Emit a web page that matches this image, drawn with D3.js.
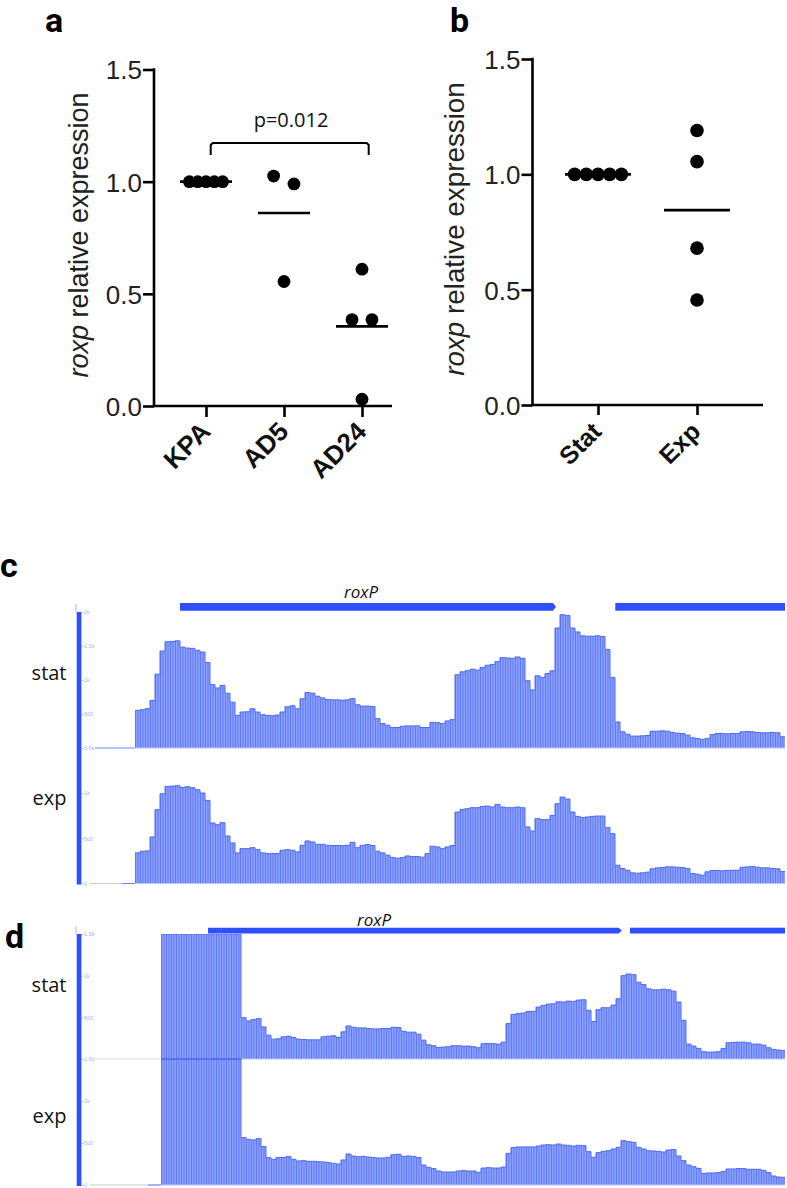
<!DOCTYPE html>
<html><head><meta charset="utf-8">
<script src="https://cdn.jsdelivr.net/npm/d3@7"></script>
<style>html,body{margin:0;padding:0;background:#fff}svg{display:block}</style>
</head><body><svg id="fig" width="787" height="1188"></svg>
<script>
// Panel a
const aCategories = ["KPA","AD5","AD24"];
const aKPA = [1,1,1,1,1];
const aAD5 = [1.025,0.99,0.555];
const aAD24 = [0.61,0.385,0.385,0.03];
const aMeans = [1.0,0.86,0.355];
const aSlots = [[-2,-1,0,1,2],[-1.25,1.2,0],[0,-1.2,1.2,0]];
// Panel b
const bCategories = ["Stat","Exp"];
const bStat = [1,1,1,1,1];
const bExp = [1.19,1.055,0.68,0.455];
const bMeans = [1.0,0.845];
const bSlots = [[-2,-1,0,1,2],[0,0,0,0]];
const yTicks = [0,0.5,1.0,1.5];
const trackTicks = [0,500,1000,1500];
// Panel c coverage (reads per 5px bin, first bin at genome position 0)
const cStat = [553,563,577,698,1086,1426,1562,1567,1576,1484,1470,1465,1436,1411,1256,931,883,921,805,674,480,529,533,577,529,490,480,475,485,529,606,621,577,723,815,805,761,737,713,708,708,703,708,727,635,616,616,611,432,359,335,301,301,320,325,325,325,301,301,378,373,359,398,417,1077,1120,1135,1159,1145,1183,1217,1227,1271,1329,1324,1319,1339,1319,990,854,1062,1038,1096,1135,1765,1959,1950,1765,1707,1649,1644,1644,1649,1639,1450,1038,383,238,204,175,175,179,184,247,247,252,247,228,218,213,189,150,141,126,141,199,213,213,208,213,213,238,242,238,228,223,223,228,223,165];
const cExp = [339,357,361,515,817,994,1075,1078,1082,1064,1071,1060,1038,1001,920,670,651,673,526,449,339,386,386,397,375,339,331,331,331,368,375,368,350,423,471,460,434,434,423,420,420,420,423,456,397,423,431,420,357,339,313,287,280,287,305,298,298,291,331,412,405,386,405,420,791,821,828,839,839,854,857,846,876,846,839,839,846,839,626,581,718,707,707,754,883,957,935,791,743,732,736,743,747,747,618,552,202,166,147,118,114,118,125,162,173,177,184,184,180,177,166,110,103,92,129,144,144,140,144,147,147,180,184,188,180,173,173,166,162,132];
// Panel d coverage; the saturated peak runs off the top of the axis
const dStat = [1500,1500,1500,1500,1500,1500,1500,1500,1500,1500,1500,1500,1500,1500,1500,1500,496,457,472,484,385,286,238,242,266,274,258,238,234,230,230,230,266,274,278,258,326,397,381,373,373,365,361,361,365,365,381,377,333,322,322,298,226,171,159,139,143,147,159,159,155,155,147,135,183,187,183,179,202,425,536,544,552,572,572,623,643,659,663,687,683,695,691,707,711,584,449,592,615,615,647,723,1000,1020,1012,921,893,842,830,830,838,830,814,683,464,179,155,127,87,83,83,87,127,195,198,202,202,195,179,179,167,135,115,107,103];
const dExp = [1500,1500,1500,1500,1500,1500,1500,1500,1500,1500,1500,1500,1500,1500,1500,1500,564,544,536,552,457,326,306,326,330,337,306,286,290,282,282,278,274,266,258,250,298,369,345,337,341,333,326,322,322,330,361,365,341,345,341,326,238,210,195,167,155,155,155,167,171,167,167,151,202,206,202,202,214,377,445,453,453,453,453,464,476,480,476,488,476,472,464,472,468,397,330,385,401,409,429,449,528,516,508,449,429,409,405,401,393,417,421,345,290,238,218,198,139,143,143,147,159,191,191,195,195,187,187,187,175,147,107,95,91];
const trackTickLabels = new Map([[0,"0"],[500,"500"],[1000,"1k"],[1500,"1.5k"],[2000,"2k"]]);

const svg = d3.select("#fig");
const SANS = "'Liberation Sans',Arial,sans-serif", BODY = "'Open Sans',sans-serif";
const BLUE = "#2f4fff";

function panelLetter(t,x,y){
  svg.append("text").text(t).attr("x",x).attr("y",y)
    .attr("font-family","Roboto,sans-serif").attr("font-weight",700).attr("font-size",34).attr("fill","#000");
}
function dotPanel(o){
  const g = svg.append("g");
  const y = d3.scaleLinear().domain([0,1.5]).range([o.y0,o.y1]);
  const x = d3.scalePoint().domain(o.cats).range(o.xr);
  const ya = g.append("g").attr("transform",`translate(${o.ax},0)`)
    .call(d3.axisLeft(y).tickValues(yTicks).tickFormat(d3.format(".1f")).tickSize(o.tick).tickPadding(1));
  const xa = g.append("g").attr("transform",`translate(0,${o.y0})`)
    .call(d3.axisBottom(x).tickSize(o.xtick).tickFormat(""));
  [ya,xa].forEach(a=>{
    a.selectAll("line").attr("stroke","#000").attr("stroke-width",2.6);
    a.select(".domain").remove();
  });
  g.append("path").attr("d",d3.line()([[o.ax,o.y1-1.3],[o.ax,o.y0],[o.xEnd,o.y0]]))
    .attr("fill","none").attr("stroke","#000").attr("stroke-width",2.6);
  ya.selectAll("text").attr("font-family",SANS).attr("font-size",26).attr("fill","#222").attr("dy","0.36em");
  g.append("text").attr("transform",`translate(${o.labelX},${o.labelY}) rotate(-90)`)
    .attr("text-anchor","middle").attr("font-family",SANS).attr("font-size",o.labelSize).attr("fill","#222")
    .call(t=>{t.append("tspan").attr("font-style","italic").text("roxp");t.append("tspan").text(" relative expression");});
  o.cats.forEach((c,i)=>{
    g.append("text").text(c)
      .attr("transform",`translate(${x(c)+o.catDx},${o.catY}) rotate(-45)`)
      .attr("text-anchor","end").attr("font-family",SANS).attr("font-weight",700).attr("font-size",o.catSize).attr("fill","#111");
    g.selectAll(null).data(o.series[i]).join("circle")
      .attr("cx",(d,j)=>x(c)+o.slots[i][j]*o.step).attr("cy",d=>y(d)).attr("r",o.r).attr("fill","#000");
    g.append("line").attr("x1",x(c)-o.mean).attr("x2",x(c)+o.mean)
      .attr("y1",y(o.means[i])).attr("y2",y(o.means[i])).attr("stroke","#000").attr("stroke-width",2.6);
  });
  return {g,x,y};
}
const A = dotPanel({cats:aCategories,series:[aKPA,aAD5,aAD24],means:aMeans,slots:aSlots,
  y0:406,y1:69.5,xr:[206,362],ax:154,xEnd:392,tick:11,xtick:11,step:8.3,r:6.4,mean:26,
  labelX:88,labelY:235,labelSize:27,catDx:6,catY:433,catSize:26});
const B = dotPanel({cats:bCategories,series:[bStat,bExp],means:bMeans,slots:bSlots,
  y0:405,y1:59,xr:[598,697],ax:532.5,xEnd:763,tick:11,xtick:10,step:11.7,r:6.8,mean:33,
  labelX:464,labelY:229,labelSize:27.8,catDx:5,catY:433,catSize:25});
// significance bracket
A.g.append("path").attr("d",d3.line()([[210.7,155],[210.7,145],[212.7,143],[366.7,143],[368.7,145],[368.7,155]]))
  .attr("fill","none").attr("stroke","#000").attr("stroke-width",2);
A.g.append("text").text("p=0.012").attr("x",291).attr("y",127).attr("text-anchor","middle")
  .attr("font-family",BODY).attr("font-size",20).attr("fill","#111");

function track(g,vals,x,y,clipId){
  const n = vals.length, base = y(0);
  const pts = vals.concat([vals[n-1]]);
  const t = g.append("g").attr("clip-path",`url(#${clipId})`);
  t.append("path").attr("fill","#8da2ff")
    .attr("d",d3.area().curve(d3.curveStepAfter).x((d,i)=>x(i)).y0(base).y1(d=>y(d))(pts));
  t.selectAll(null).data(d3.range(n*2)).join("rect")
    .attr("x",i=>x(i/2)).attr("width",0.9)
    .attr("y",i=>y(vals[Math.floor(i/2)])).attr("height",i=>base-y(vals[Math.floor(i/2)]))
    .attr("fill","#4e69f6").attr("opacity",.8);
  t.append("path").attr("fill","none").attr("stroke","#4f6bf8").attr("stroke-width",1)
    .attr("d",d3.line().curve(d3.curveStepAfter).x((d,i)=>x(i)).y(d=>y(d))(pts));
  t.append("line").attr("x1",x(0)).attr("x2",x(n)).attr("y1",base).attr("y2",base)
    .attr("stroke","#b9c6ff").attr("stroke-width",1.2);
}
function miniAxis(g,y,vals){
  const a = g.append("g").attr("transform","translate(81,0)")
    .call(d3.axisRight(y).tickValues(vals).tickSize(3).tickPadding(0).tickFormat(d=>trackTickLabels.get(d)));
  a.select(".domain").remove();
  a.selectAll("line").attr("stroke","#9fb0ff").attr("stroke-width",.7);
  a.selectAll("text").attr("font-family",SANS).attr("font-size",5.5).attr("fill","#a3b4ff");
}
function genomePanel(o){
  const g = svg.append("g");
  const defs = g.append("defs");
  defs.append("clipPath").attr("id",o.id).append("rect").attr("x",0).attr("y",o.top).attr("width",785).attr("height",o.bottom-o.top+1);
  const xs = d3.scaleLinear().domain([0,o.stat.length]).range([o.x0,o.x0+5*o.stat.length]);
  const yS = d3.scaleLinear().domain(o.statDomain).range([o.statBase,o.top]);
  const yE = d3.scaleLinear().domain([0,1500]).range([o.bottom,o.statBase]);
  g.append("line").attr("x1",76).attr("x2",76).attr("y1",o.top-8).attr("y2",o.top).attr("stroke","#bbb");
  g.append("rect").attr("x",76.7).attr("y",o.top).attr("width",4.7).attr("height",o.bottom-o.top+1).attr("fill",BLUE);
  track(g,o.stat,xs,yS,o.id);
  track(g,o.exp,xs,yE,o.id);
  miniAxis(g,yS,o.statDomain[1]===2000?[500,1000,1500,2000]:[500,1000,1500]);
  miniAxis(g,yE,trackTicks);
  // flat stretches ahead of the first covered position
  g.append("line").attr("x1",95).attr("x2",o.x0).attr("y1",o.statBase).attr("y2",o.statBase).attr("stroke",o.flat).attr("stroke-width",1.2);
  g.append("line").attr("x1",90).attr("x2",o.x0).attr("y1",o.bottom).attr("y2",o.bottom).attr("stroke","#ccc").attr("stroke-width",1);
  g.append("line").attr("x1",o.x0-13).attr("x2",o.x0).attr("y1",o.bottom).attr("y2",o.bottom).attr("stroke","#6f87fb").attr("stroke-width",1);
  if(o.cross) g.append("line").attr("x1",o.x0).attr("x2",241).attr("y1",o.statBase).attr("y2",o.statBase).attr("stroke","#3f5cf0").attr("stroke-width",1);
  // gene models
  const [gy,gh] = o.gene;
  g.append("path").attr("fill",BLUE).attr("d",d3.line()([[o.g1[0],gy],[o.g1[1]-3,gy],[o.g1[1],gy+gh/2],[o.g1[1]-3,gy+gh],[o.g1[0],gy+gh]]));
  g.append("rect").attr("x",o.g2).attr("y",gy).attr("width",785-o.g2).attr("height",gh).attr("fill",BLUE);
  g.append("text").text("roxP").attr("x",o.nameX).attr("y",o.nameY).attr("text-anchor","middle")
    .attr("font-family",BODY).attr("font-style","italic").attr("font-size",17).attr("fill","#111");
  [["stat",o.statLabel],["exp",o.expLabel]].forEach(([t,yy])=>{
    g.append("text").text(t).attr("x",66.5).attr("y",yy).attr("text-anchor","end")
      .attr("font-family",BODY).attr("font-size",20).attr("fill","#111");
  });
}
genomePanel({id:"clipC",stat:cStat,exp:cExp,x0:135,top:612,bottom:883.5,statBase:748,statDomain:[0,2000],
  flat:"#6f87fb",gene:[603,7.7],g1:[180,556],g2:615.3,nameX:361,nameY:598,statLabel:680,expLabel:805,cross:false});
genomePanel({id:"clipD",stat:dStat,exp:dExp,x0:161,top:934,bottom:1185,statBase:1059,statDomain:[0,1500],
  flat:"#ddd",gene:[927.7,5.8],g1:[208,621.7],g2:630,nameX:374,nameY:926,statLabel:992,expLabel:1123,cross:true});

panelLetter("a",45,32);
panelLetter("b",450,32);
panelLetter("c",0,577);
panelLetter("d",5,948);
</script></body></html>
